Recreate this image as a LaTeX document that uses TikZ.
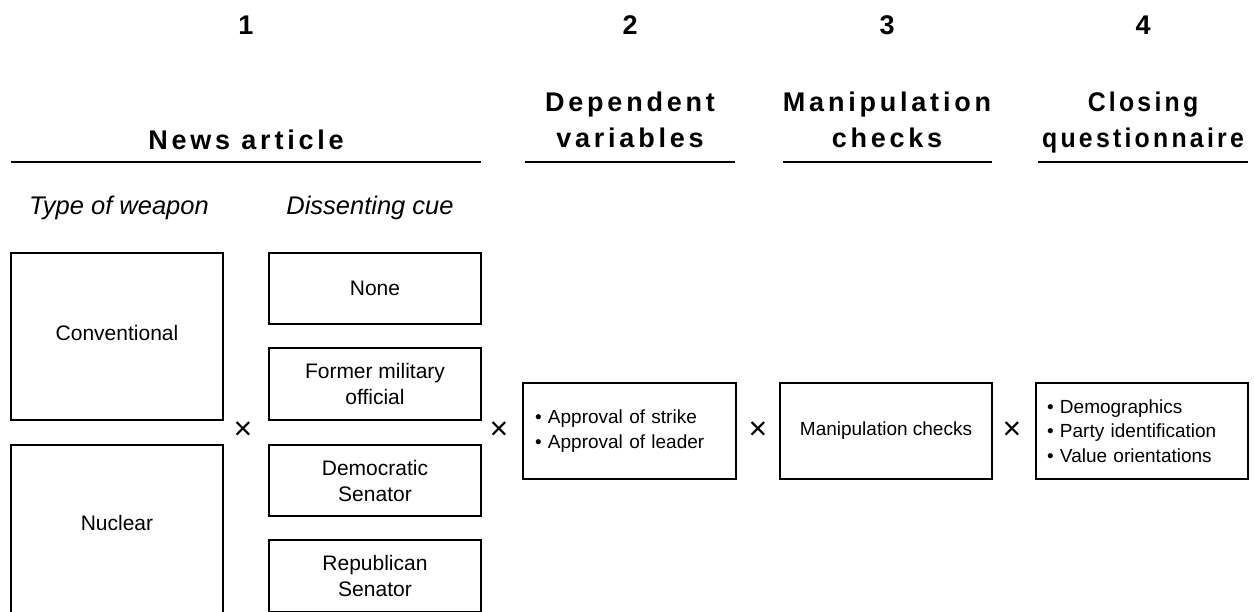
\documentclass[tikz,border=0pt]{standalone}
\usepackage{fontspec}
\setmainfont{Liberation Sans}
\newfontfamily\hdrfont{Liberation Sans}[LetterSpace=14]
\newfontfamily\hdrfontc{Liberation Sans}[LetterSpace=12,FakeStretch=0.92]
\begin{document}
\begin{tikzpicture}[x=1pt,y=-1pt,
  hdr/.style={font=\hdrfont\bfseries\fontsize{27}{36}\selectfont, align=center, inner sep=0pt},
  hdrc/.style={font=\hdrfontc\bfseries\fontsize{27}{36}\selectfont, align=center, inner sep=0pt},
  num/.style={font=\bfseries\fontsize{27}{32}\selectfont, inner sep=0pt},
  sub/.style={font=\itshape\fontsize{25.5}{30}\selectfont, inner sep=0pt},
  bigbox/.style={draw, line width=1.4pt, minimum width=212pt, align=center, font=\fontsize{21}{26}\selectfont, inner sep=0pt},
  rbox/.style={draw, line width=1.4pt, minimum width=212pt, minimum height=96pt, font=\fontsize{19}{24.5}\selectfont},
  times/.style={font=\fontsize{32}{32}\selectfont, inner sep=0pt},
  rule/.style={line width=2.5pt}
]
\useasboundingbox (0,0) rectangle (1255,611);

% step numbers
\node[num] (n1) at (246,25.5) {1};
\node[num] (n2) at (630,25.5) {2};
\node[num] (n3) at (887,25.5) {3};
\node[num] (n4) at (1143,25.5) {4};

% headers
\node[hdr] (h1) at (246,140) {News article};
\node[hdr] (h2) at (630,120) {Dependent\\variables};
\node[hdr] (h3) at (887,120) {Manipulation\\checks};
\node[hdrc] (h4) at (1143,122.5) {Closing\\questionnaire};

\draw[rule] (11,162) -- (481,162);
\draw[rule] (525,162) -- (735,162);
\draw[rule] (783,162) -- (992,162);
\draw[rule] (1038,162) -- (1248,162);

% sub labels
\node[sub] (tw) at (119,208) {Type of weapon};
\node[sub] (dc) at (370,208) {Dissenting cue};

% weapon boxes
\node[bigbox, minimum height=167pt, text depth=8pt] (conv) at (117,336.5) {Conventional};
\node[bigbox, minimum height=168pt, text depth=12pt] (nucl) at (117,529) {Nuclear};

% dissent boxes
\node[bigbox, minimum height=71pt] (none) at (375,288.5) {None};
\node[bigbox, minimum height=72pt] (form) at (375,384) {Former military\\official};
\node[bigbox, minimum height=71pt] (demo) at (375,480.5) {Democratic\\Senator};
\node[bigbox, minimum height=72pt] (repu) at (375,576) {Republican\\Senator};

% right boxes
\node[rbox, minimum width=213pt, text width=189pt, align=left, inner xsep=12pt] (dv) at (629.5,431) {• Approval of strike\\• Approval of leader};
\node[rbox] (mc) at (886,431) {Manipulation checks};
\node[rbox, text width=190pt, align=left, inner xsep=11pt] (cq) at (1142,431) {• Demographics\\• Party identification\\• Value orientations};

% multiplication signs
\node[times] (x1) at (243,431) {×};
\node[times] (x2) at (499,431) {×};
\node[times] (x3) at (758,431) {×};
\node[times] (x4) at (1012,431) {×};
\end{tikzpicture}
\end{document}
